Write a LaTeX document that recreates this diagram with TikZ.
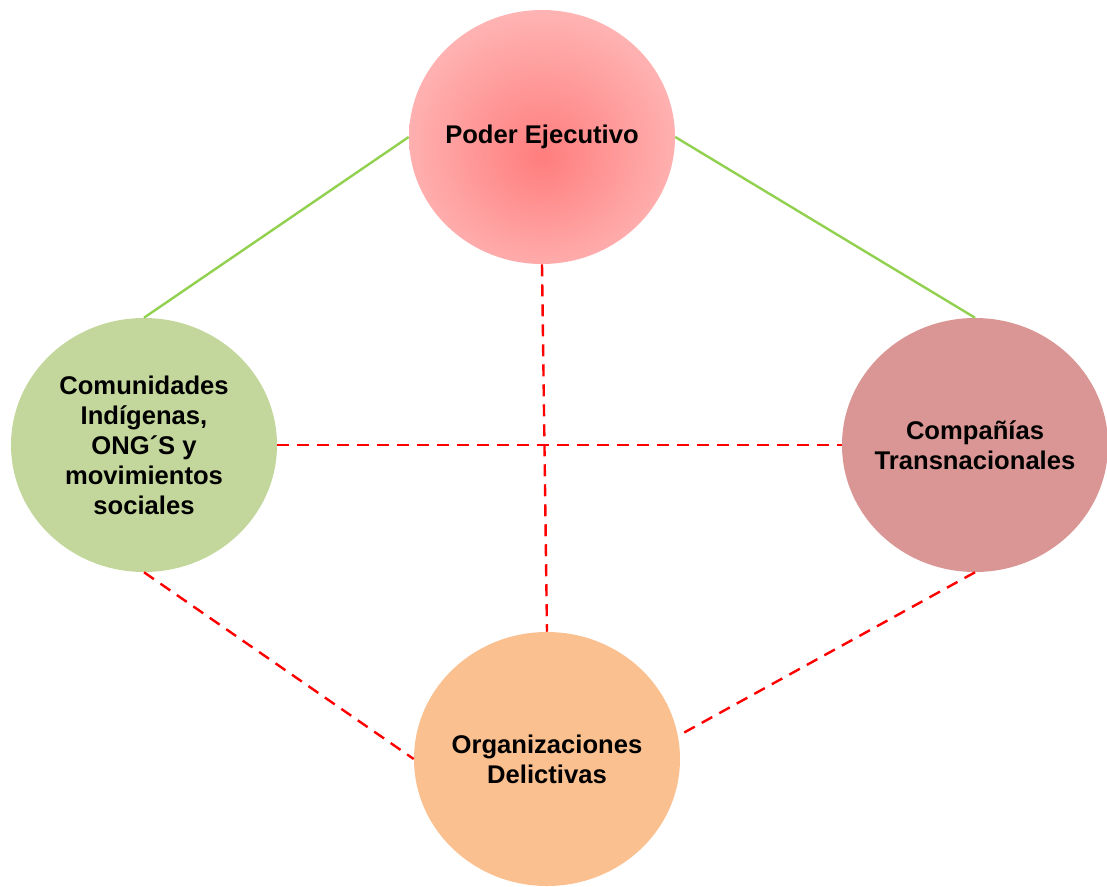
\documentclass[tikz,border=0pt]{standalone}
\usepackage{fontspec}
\setmainfont{Liberation Sans}
\usetikzlibrary{shapes.geometric}
\definecolor{tiegreen}{RGB}{146,208,80}
\definecolor{tiered}{RGB}{255,0,0}
\definecolor{comfill}{RGB}{195,214,155}
\definecolor{ciafill}{RGB}{217,150,148}
\definecolor{orgfill}{RGB}{250,192,144}
\pgfdeclareradialshading{poderglow}{\pgfpoint{0bp}{-4bp}}{rgb(0bp)=(1,0.49,0.49); rgb(34bp)=(1,0.76,0.76); rgb(50bp)=(1,0.76,0.76)}
\begin{document}
\begin{tikzpicture}[x=0.75pt,y=0.75pt,yscale=-1,xscale=1,
    actor/.style={ellipse, draw=none, inner xsep=-12pt, inner ysep=0pt, minimum width=199.5pt, minimum height=190.5pt,
        align=center, font=\bfseries\fontsize{19.2}{22.5}\selectfont},
    tie/.style={tiegreen, line width=1.8pt},
    clash/.style={tiered, line width=1.8pt, dash pattern=on 9pt off 6pt}]
    \useasboundingbox (0, 0) rectangle (1107, 886);
    %actors
    \node[actor, shading=poderglow] (poder) at (542, 137) {Poder Ejecutivo};
    \node[actor, fill=comfill] (comun) at (144, 445) {Comunidades\\Indígenas,\\ONG´S y\\movimientos\\sociales};
    \node[actor, fill=ciafill] (compa) at (975, 445) {Compañías\\Transnacionales};
    \node[actor, fill=orgfill] (organ) at (547, 759) {Organizaciones\\Delictivas};
    %alliances
    \draw[tie] (poder.west) -- (comun.north);
    \draw[tie] (poder.east) -- (compa.north);
    %conflicts
    \draw[clash] (poder.south) -- (organ.north);
    \draw[clash] (comun.east) -- (compa.west);
    \draw[clash] (comun.south) -- (organ.west);
    \draw[clash] (compa.south) -- (organ.10);
\end{tikzpicture}
\end{document}
